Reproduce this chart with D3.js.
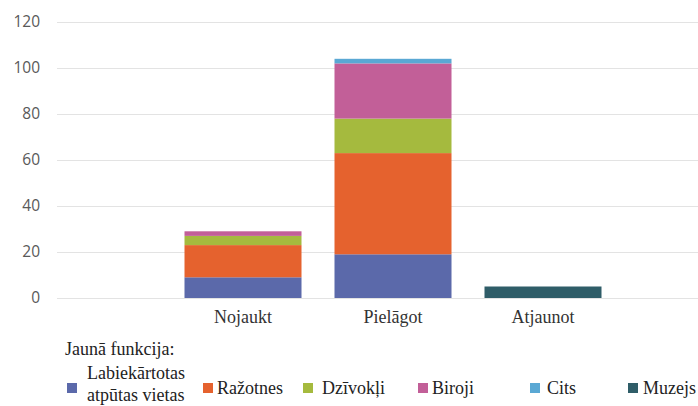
<!DOCTYPE html>
<html>
<head>
<meta charset="utf-8">
<script src="https://cdn.jsdelivr.net/npm/d3@7"></script>
<style>
  body { margin: 0; background: #fff; }
</style>
</head>
<body>
<script>
// chart data
var categories = ["Nojaukt", "Pielāgot", "Atjaunot"];
var seriesNames = ["Labiekārtotas atpūtas vietas", "Ražotnes", "Dzīvokļi", "Biroji", "Cits", "Muzejs"];
var labiekartotas = [9, 19, 0];
var razotnes = [14, 44, 0];
var dzivokli = [4, 15, 0];
var biroji = [2, 24, 0];
var cits = [0, 2, 0];
var muzejs = [0, 0, 5];
var yTicks = [0, 20, 40, 60, 80, 100, 120];
var legendTitle = "Jaunā funkcija:";

var colors = ["#5b69aa", "#e5622e", "#a5ba3e", "#c25f98", "#5aa8d4", "#2f5d68"];
var serif = "'Liberation Serif', 'Times New Roman', serif";
var sans = "'Open Sans', 'Liberation Sans', sans-serif";

var width = 698, height = 406;
var margin = {top: 22, right: 0, bottom: 108, left: 57};

var svg = d3.select("body")
            .append("svg")
            .attr("width", width)
            .attr("height", height);

var rows = categories.map(function(c, i) {
  return {cat: c, s0: labiekartotas[i], s1: razotnes[i], s2: dzivokli[i], s3: biroji[i], s4: cits[i], s5: muzejs[i]};
});
var keys = ["s0", "s1", "s2", "s3", "s4", "s5"];
var stacked = d3.stack().keys(keys)(rows);

var x = d3.scaleBand()
          .domain(categories)
          .range([168, 618])
          .paddingInner(0.22)
          .paddingOuter(0.11);

var y = d3.scaleLinear()
          .domain([0, 120])
          .range([298, 22]);

// grid
svg.append("g")
   .selectAll("line")
   .data(yTicks)
   .enter().append("line")
   .attr("x1", margin.left)
   .attr("x2", width)
   .attr("y1", function(d) { return y(d) + 0.5; })
   .attr("y2", function(d) { return y(d) + 0.5; })
   .style("stroke", "#e3e3e3")
   .style("stroke-width", 1);

// y axis labels
var yAxis = svg.append("g")
   .attr("transform", "translate(40,0)")
   .call(d3.axisLeft(y).tickValues(yTicks).tickSize(0).tickPadding(0));
yAxis.select(".domain").remove();
yAxis.selectAll("text")
   .style("font-family", sans)
   .style("font-size", "15.5px")
   .style("fill", "#595959");

// bars
svg.append("g")
   .selectAll("g")
   .data(stacked)
   .enter().append("g")
   .style("fill", function(d, i) { return colors[i]; })
   .selectAll("rect")
   .data(function(d) { return d; })
   .enter().append("rect")
   .attr("x", function(d) { return x(d.data.cat); })
   .attr("width", x.bandwidth())
   .attr("y", function(d) { return y(d[1]); })
   .attr("height", function(d) { return y(d[0]) - y(d[1]); });

// x labels
var xAxis = svg.append("g")
   .attr("transform", "translate(0,298)")
   .call(d3.axisBottom(x).tickSize(0).tickPadding(0));
xAxis.select(".domain").remove();
xAxis.selectAll("text")
   .attr("dy", null)
   .attr("y", 25)
   .style("font-family", serif)
   .style("font-size", "18px")
   .style("fill", "#333");

// legend
svg.append("text")
   .attr("x", 65)
   .attr("y", 355)
   .style("font-family", serif)
   .style("font-size", "18px")
   .style("fill", "#222")
   .text(legendTitle);

var legendX = [67, 203, 303, 418, 530, 628];
var legendTextX = [87, 217, 322, 432, 547, 643];
var legend = svg.append("g").selectAll("g")
   .data(seriesNames)
   .enter().append("g");

legend.append("rect")
   .attr("x", function(d, i) { return legendX[i]; })
   .attr("y", 383)
   .attr("width", 10)
   .attr("height", 10)
   .style("fill", function(d, i) { return colors[i]; });

legend.each(function(d, i) {
  var t = d3.select(this).append("text")
     .attr("x", legendTextX[i])
     .style("font-family", serif)
     .style("font-size", "18px")
     .style("fill", "#222");
  if (i == 0) {
    var parts = ["Labiekārtotas", "atpūtas vietas"];
    t.append("tspan").attr("x", legendTextX[i]).attr("y", 379).text(parts[0]);
    t.append("tspan").attr("x", legendTextX[i]).attr("y", 401).text(parts[1]);
  } else {
    t.attr("y", 394).text(d);
  }
});
</script>
</body>
</html>
